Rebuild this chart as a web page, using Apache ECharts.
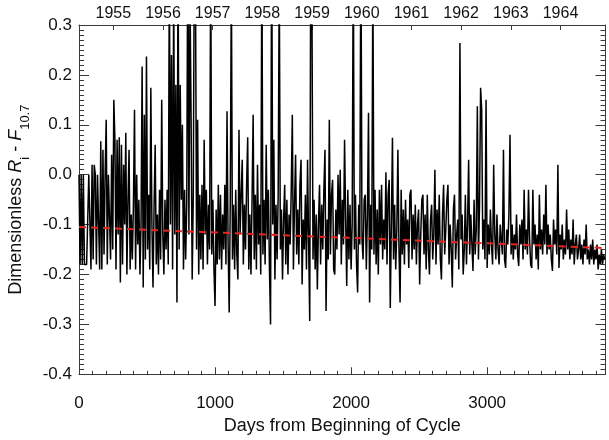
<!DOCTYPE html>
<html>
<head>
<meta charset="utf-8">
<script src="https://cdn.jsdelivr.net/npm/echarts@6/dist/echarts.min.js"></script>
<style>
  html, body { margin: 0; padding: 0; background: #fff; }
  #chart { width: 609px; height: 440px; }
</style>
</head>
<body>
<div id="chart"></div>
<script>
// Daily index difference, sampled every dayStep days from the start of the cycle
const dayStep = 8;
const signal = [
  0.0, -0.18, 0.0, -0.18, 0.0, -0.18, -0.18, -0.18, -0.18, 0.0,
  0.0, -0.19, 0.02, -0.17, 0.02, 0.0, -0.18, 0.0, 0.0, -0.19,
  0.067, -0.19, 0.05, -0.16, 0.0, 0.11, -0.18, 0.0, 0.0, -0.17,
  0.04, -0.15, 0.15, 0.07, -0.19, 0.07, -0.12, 0.075, -0.216, 0.06,
  -0.18, 0.02, -0.1, 0.084, -0.2, -0.05, 0.05, -0.19, -0.08, -0.17,
  -0.06, 0.13, -0.19, 0.0, -0.14, -0.05, -0.2, -0.1, 0.217, -0.226,
  0.12, -0.17, 0.237, -0.15, -0.04, -0.19, 0.174, -0.1, -0.226, -0.06,
  0.06, -0.18, -0.08, -0.2, -0.03, -0.17, 0.15, -0.12, -0.2, -0.05,
  -0.15, -0.03, -0.18, 0.42, -0.1, 0.24, -0.19, 0.38, -0.12, 0.18,
  -0.256, 0.45, -0.15, 0.18, -0.05, 0.1, -0.19, -0.03, -0.17, -0.06,
  0.52, -0.12, 0.36, 0.11, -0.21, -0.04, 0.48, 0.4, -0.15, 0.11,
  -0.2, -0.04, -0.17, -0.02, -0.19, 0.07, -0.12, -0.03, -0.18, -0.06,
  -0.15, 0.45, -0.16, -0.05, -0.19, -0.263, -0.07, -0.18, -0.02, -0.17,
  -0.04, -0.19, -0.08, -0.15, -0.02, -0.18, 0.127, -0.14, -0.276, -0.05,
  0.4, -0.17, -0.06, -0.19, -0.03, -0.16, -0.21, 0.09, -0.12, -0.04,
  0.03, -0.18, -0.06, -0.15, -0.02, 0.075, -0.19, -0.08, -0.2, -0.05,
  0.12, -0.17, -0.04, -0.19, 0.02, -0.14, -0.06, -0.2, 0.45, -0.16,
  -0.05, -0.18, 0.06, -0.13, -0.03, -0.19, -0.3, 0.5, -0.1, 0.07,
  -0.21, -0.06, -0.17, -0.04, 0.4, -0.15, -0.07, -0.21, -0.09, -0.02,
  -0.18, -0.05, -0.2, -0.08, -0.14, -0.03, 0.12, -0.19, -0.06, 0.04,
  -0.16, -0.07, -0.18, -0.02, 0.03, -0.22, -0.09, -0.15, -0.04, -0.19,
  0.03, -0.14, -0.293, 0.5, 0.35, -0.17, -0.05, -0.19, -0.08, -0.23,
  -0.1, -0.02, -0.18, -0.06, -0.15, -0.03, 0.05, -0.273, -0.09, -0.17,
  0.11, -0.16, -0.04, -0.01, -0.19, -0.2, -0.07, -0.15, 0.0, -0.12,
  0.01, -0.18, -0.05, -0.14, 0.07, -0.09, -0.223, -0.03, -0.17, -0.06,
  -0.19, -0.1, 0.45, -0.15, -0.04, -0.18, -0.236, -0.06, -0.14, 0.5,
  -0.13, -0.17, -0.05, -0.04, -0.19, -0.08, 0.124, -0.256, -0.06, -0.15,
  0.4, -0.16, -0.03, -0.18, -0.07, -0.2, -0.03, -0.14, -0.02, -0.17,
  -0.09, -0.15, 0.005, -0.18, -0.04, -0.01, -0.267, -0.1, 0.074, -0.17,
  -0.06, -0.19, -0.11, 0.05, -0.15, -0.256, -0.03, -0.16, -0.07, -0.18,
  -0.05, -0.14, -0.09, -0.187, -0.04, -0.03, -0.17, -0.08, -0.15, -0.06,
  -0.18, -0.1, -0.07, -0.22, -0.12, -0.05, -0.04, -0.16, -0.08, -0.19,
  -0.04, -0.15, -0.2, -0.09, -0.06, -0.17, -0.12, 0.01, -0.18, -0.07,
  -0.14, -0.04, -0.17, -0.21, -0.08, -0.02, -0.16, -0.11, -0.05, -0.02,
  -0.18, -0.1, -0.15, -0.226, -0.07, -0.04, -0.17, -0.12, -0.09, -0.19,
  0.264, -0.13, -0.08, -0.2, -0.15, -0.04, -0.18, -0.1, 0.03, -0.16,
  -0.08, -0.14, -0.193, -0.05, -0.16, -0.11, 0.137, -0.17, -0.06, 0.174,
  0.13, -0.15, -0.09, -0.17, 0.15, -0.187, -0.1, -0.16, -0.07, -0.14,
  -0.18, 0.02, -0.12, -0.17, -0.08, -0.15, -0.18, -0.1, -0.13, -0.16,
  0.05, -0.17, -0.187, -0.11, -0.14, -0.08, 0.08, -0.16, -0.1, -0.17,
  -0.12, -0.15, -0.08, -0.16, -0.183, -0.1, -0.14, -0.09, -0.17, -0.03,
  -0.15, -0.11, -0.16, -0.03, -0.13, -0.18, -0.187, -0.03, -0.14, -0.1,
  -0.17, -0.12, -0.19, -0.04, -0.15, -0.11, -0.16, -0.08, -0.14, -0.02,
  -0.16, -0.1, -0.15, -0.12, -0.17, -0.193, -0.09, -0.14, -0.11, -0.16,
  0.02, -0.187, -0.12, -0.15, -0.1, -0.17, -0.13, -0.16, -0.07, -0.15,
  -0.11, -0.17, -0.13, -0.16, -0.09, -0.18, -0.14, -0.12, -0.17, -0.15,
  -0.12, -0.17, -0.14, -0.18, -0.13, -0.16, -0.1, -0.17, -0.15, -0.18,
  -0.14, -0.17, -0.13, -0.18, -0.15, -0.17, -0.14, -0.19, -0.16, -0.18,
  -0.15, -0.18, -0.16, -0.17
];

// Linear trend over the cycle
const trendDays = [0, 3870];
const trendValues = [-0.105, -0.147];

// Axes
const dayMax = 3870;
const dayTickStep = 1000;
const valueMin = -0.4;
const valueMax = 0.3;
const valueTickStep = 0.1;
const yearLabels = [1955, 1956, 1957, 1958, 1959, 1960, 1961, 1962, 1963, 1964];
const cycleStartYear = 1954.31;

const FONT = '"Liberation Sans", Arial, Helvetica, sans-serif';
const AXIS_COLOR = '#3a3a3a';

const yearDays = yearLabels.map(y => (y - cycleStartYear) * 365.25);
const signalData = signal.map((v, i) => [i * dayStep, v]);
const trendData = trendDays.map((d, i) => [d, trendValues[i]]);

const chart = echarts.init(document.getElementById('chart'), null, { renderer: 'canvas' });

const boxLine = { show: true, onZero: false, lineStyle: { color: AXIS_COLOR, width: 1 } };

chart.setOption({
  animation: false,
  backgroundColor: '#ffffff',
  textStyle: { fontFamily: FONT },
  grid: { left: 79, right: 3.5, top: 25, bottom: 65.7, outerBoundsMode: 'none', containLabel: false },
  xAxis: [
    {
      type: 'value', position: 'bottom', min: 0, max: dayMax, interval: dayTickStep,
      axisLine: boxLine,
      axisTick: { show: true, inside: true, length: 7, lineStyle: { color: AXIS_COLOR } },
      minorTick: { show: true, splitNumber: 10, length: 3.5, lineStyle: { color: AXIS_COLOR } },
      splitLine: { show: false }, minorSplitLine: { show: false },
      axisLabel: {
        show: true, showMaxLabel: false, margin: 21, fontSize: 17, color: '#111', fontFamily: FONT,
        formatter: v => String(v)
      },
      name: 'Days from Beginning of Cycle', nameLocation: 'middle', nameGap: 43,
      nameTextStyle: { fontSize: 18, color: '#111', fontFamily: FONT }
    },
    {
      type: 'value', position: 'top', min: 0, max: dayMax,
      axisLine: boxLine,
      axisTick: { show: true, inside: true, length: 5, customValues: yearDays, lineStyle: { color: AXIS_COLOR } },
      axisLabel: {
        show: true, customValues: yearDays, margin: 3, fontSize: 16, color: '#111', fontFamily: FONT,
        formatter: v => String(Math.round(cycleStartYear + v / 365.25))
      },
      splitLine: { show: false }
    }
  ],
  yAxis: [
    {
      type: 'value', position: 'left', min: valueMin, max: valueMax, interval: valueTickStep,
      axisLine: boxLine,
      axisTick: { show: true, inside: true, length: 10, lineStyle: { color: AXIS_COLOR } },
      minorTick: { show: true, splitNumber: 10, length: 5, lineStyle: { color: AXIS_COLOR } },
      splitLine: { show: false }, minorSplitLine: { show: false },
      axisLabel: {
        show: true, margin: 7, fontSize: 17, color: '#111', fontFamily: FONT,
        formatter: v => (Math.abs(v) < 1e-9 ? '0.0' : v.toFixed(1))
      },
      name: '{n|Dimensionless }{it|R}{sub|i}{n| - }{it|F}{sub|10.7}',
      nameLocation: 'middle', nameGap: 47, nameRotate: 90,
      nameTextStyle: {
        fontFamily: FONT, color: '#111',
        rich: {
          n: { fontSize: 18, lineHeight: 31, fontFamily: FONT, color: '#111' },
          it: { fontSize: 18, lineHeight: 31, fontStyle: 'italic', fontFamily: FONT, color: '#111' },
          sub: { fontSize: 13, lineHeight: 13, verticalAlign: 'bottom', fontFamily: FONT, color: '#111' }
        }
      }
    },
    {
      type: 'value', position: 'right', min: valueMin, max: valueMax, interval: valueTickStep,
      axisLine: boxLine,
      axisTick: { show: true, inside: true, length: 10, lineStyle: { color: AXIS_COLOR } },
      minorTick: { show: true, splitNumber: 10, length: 5, lineStyle: { color: AXIS_COLOR } },
      splitLine: { show: false }, minorSplitLine: { show: false },
      axisLabel: { show: false }
    }
  ],
  series: [
    {
      name: 'Ri - F10.7', type: 'line', xAxisIndex: 0, yAxisIndex: 0,
      data: signalData, showSymbol: false, symbol: 'none', clip: true,
      lineStyle: { color: '#000', width: 1.5 }, z: 2
    },
    {
      name: 'trend', type: 'line', xAxisIndex: 0, yAxisIndex: 0,
      data: trendData, showSymbol: false, symbol: 'none', clip: true,
      lineStyle: { color: '#e8241f', width: 2, type: [7, 5] }, z: 3
    }
  ]
});
</script>
</body>
</html>
